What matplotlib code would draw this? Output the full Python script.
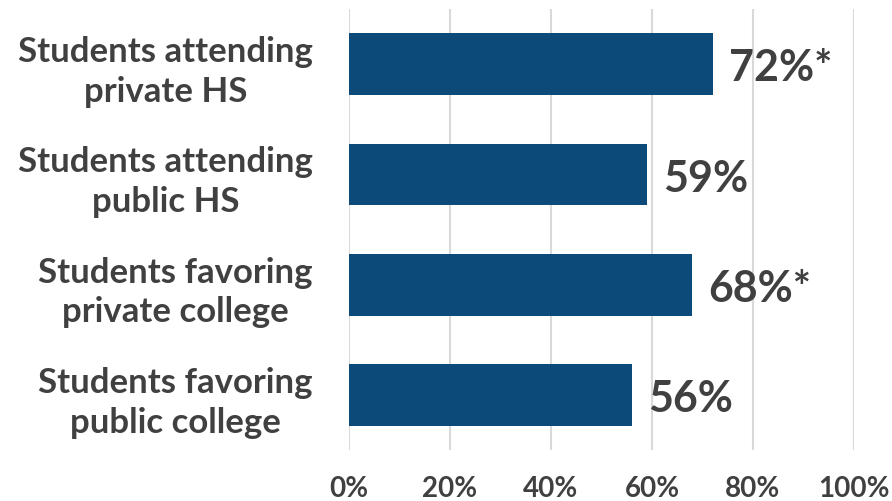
import matplotlib
matplotlib.use('Agg')
from matplotlib import pyplot as plt
import matplotlib.transforms as mtransforms
import numpy as np

# survey groups, top to bottom
groups = ['Students attending\nprivate HS',
          'Students attending\npublic HS',
          'Students favoring\nprivate college',
          'Students favoring\npublic college']
shares = [72, 59, 68, 56]
marks = ['*', '', '*', '']
xticks = [0, 20, 40, 60, 80, 100]

bar_col = '#0b4a79'
txt_col = '#404040'
plt.rcParams['font.family'] = ['Lato', 'DejaVu Sans']

fig = plt.figure(figsize=(8.92, 5.02), dpi=100)
ax = fig.add_axes([0.3913, 0.1016, 0.566, 0.8784])

ypos = np.arange(len(groups))
ax.barh(ypos, shares, height=0.56, color=bar_col, zorder=3)
for y, v, m in zip(ypos, shares, marks):
    ax.text(v + 3.2, y + 0.03, '%d%%%s' % (v, m), va='center', ha='left',
            fontsize=31, fontweight='bold', color=txt_col)

ax.set_xlim(0, 100)
ax.set_ylim(3.5, -0.5)
ax.set_xticks(xticks)
ax.set_xticklabels(['%d%%' % t for t in xticks], fontsize=20,
                   fontweight='bold', color=txt_col)
ax.set_yticks(ypos)
ax.set_yticklabels(groups, fontsize=25, fontweight='bold', color=txt_col,
                   multialignment='center', linespacing=1.3)
# shift the group labels up a few pixels so they sit centred on the bars
shift = mtransforms.ScaledTranslation(0, 5 / 100., fig.dpi_scale_trans)
for lab in ax.get_yticklabels():
    lab.set_transform(lab.get_transform() + shift)
ax.tick_params(axis='x', length=0, pad=18)
ax.tick_params(axis='y', length=0, pad=26)
ax.grid(axis='x', color='#d9d9d9', linewidth=1.5, zorder=0)
for s in ax.spines.values():
    s.set_visible(False)

plt.savefig('out.png', dpi=100)
